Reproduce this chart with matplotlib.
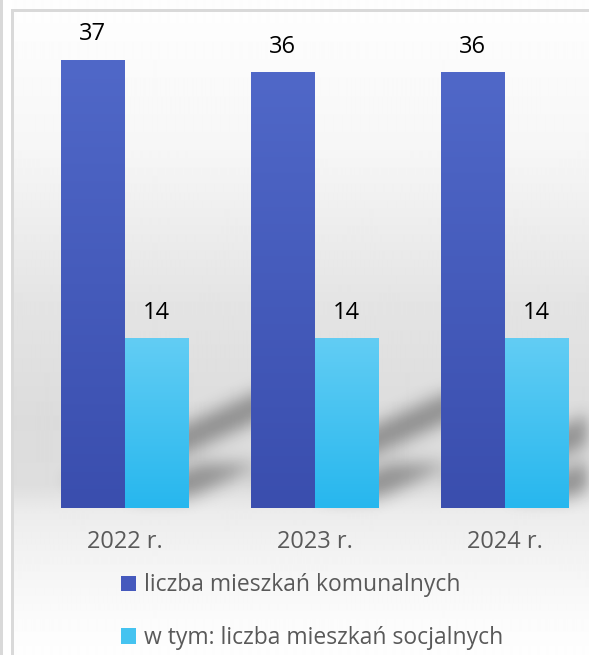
import numpy as np
import matplotlib
matplotlib.use("Agg")
import matplotlib.pyplot as plt
from matplotlib.colors import LinearSegmentedColormap
from matplotlib.collections import PolyCollection
from matplotlib.patches import Rectangle, Patch

plt.rcParams['font.family'] = ['Open Sans', 'DejaVu Sans']

# data
years = ["2022 r.", "2023 r.", "2024 r."]
komunalne = [37, 36, 36]
socjalne = [14, 14, 14]
series_names = ["liczba mieszkań komunalnych", "w tym: liczba mieszkań socjalnych"]

W, H = 589, 655
fig = plt.figure(figsize=(W / 100, H / 100), dpi=100)

# background: grey gradient box with thin border
bg = fig.add_axes([0, 0, 1, 1])
bg.axis('off')
ys = np.arange(H)
stops_y = [10, 150, 300, 420, 485, 512, 560, 620, 655]
stops_v = [0.995, 0.965, 0.895, 0.862, 0.87, 0.925, 0.955, 0.985, 0.995]
grad = np.interp(ys, stops_y, stops_v)[:, None]
bg.imshow(np.repeat(grad, 2, axis=1), cmap='gray', vmin=0, vmax=1,
          extent=[12, W, H, 0], aspect='auto', interpolation='bilinear')
bg.add_patch(Rectangle((0, 0), 2.5, H, color='#d9d9d9', lw=0))
bg.add_patch(Rectangle((11, 9), 2.5, H, color='#d9d9d9', lw=0))
bg.add_patch(Rectangle((11, 9), W, 2.5, color='#d9d9d9', lw=0))
bg.set_xlim(0, W)
bg.set_ylim(H, 0)

# main axes, placed in pixel terms
ax = fig.add_axes([14 / W, 147 / H, 1 - 14 / W, 484 / H])
ax.patch.set_alpha(0)
x = np.arange(len(years))
bw = 0.334
xlim = (-0.5816, -0.5816 + 575 / 190)
ylim = (0, 40)

b1 = ax.bar(x - bw / 2, komunalne, bw, color='#4559bd', zorder=2, label=series_names[0])
b2 = ax.bar(x + bw / 2, socjalne, bw, color='#45c3f0', zorder=2, label=series_names[1])

cm1 = LinearSegmentedColormap.from_list('b', ['#3a4eae', '#5068c8'])
cm2 = LinearSegmentedColormap.from_list('c', ['#27b7ee', '#62cdf4'])
g = np.linspace(1, 0, 200)[:, None]
for bars, cm in ((b1, cm1), (b2, cm2)):
    for p in bars:
        x0, w, h = p.get_x(), p.get_width(), p.get_height()
        ax.imshow(g, cmap=cm, vmin=0, vmax=1, extent=[x0, x0 + w, 0, h],
                  aspect='auto', interpolation='bilinear', zorder=2.1)


# soft perspective shadows behind the bars
def blur(sigma, alpha):
    pad = int(3 * sigma)
    k = np.exp(-0.5 * (np.arange(-pad, pad + 1) / sigma) ** 2)
    k /= k.sum()

    def f(im, dpi):
        a = np.pad(im[..., 3], pad)
        a = np.apply_along_axis(lambda r: np.convolve(r, k, mode='same'), 0, a)
        a = np.apply_along_axis(lambda r: np.convolve(r, k, mode='same'), 1, a)
        out = np.zeros(a.shape + (4,))
        out[..., 3] = np.clip(a * alpha, 0, 1)
        return out, -pad, -pad
    return f


polys = []
for bars in (b1, b2):
    for p in bars:
        x0, w, h = p.get_x(), p.get_width(), p.get_height()
        off = 0.06 * h
        dx = 0.028 * h
        dy = 0.2 * h
        polys.append([(x0, off), (x0 + w, off), (x0 + w + dx, off + dy), (x0 + dx, off + dy)])
sh = PolyCollection(polys, facecolors='k', edgecolors='none', zorder=1)
sh.set_agg_filter(blur(6, 0.6))
ax.add_collection(sh)

ax.bar_label(b1, padding=10, fontsize=17, color='black')
ax.bar_label(b2, padding=10, fontsize=17, color='black')

ax.set_xlim(*xlim)
ax.set_ylim(*ylim)
ax.set_xticks(x, years)
ax.tick_params(axis='x', length=0, pad=16, labelsize=17, labelcolor='#595959')
ax.set_yticks([])
for s in ax.spines.values():
    s.set_visible(False)

h1 = Patch(facecolor='#4559bd')
h2 = Patch(facecolor='#45c3f0')
fig.legend([h1, h2], series_names, loc='upper left', bbox_to_anchor=(110 / W, 1 - 562 / H),
           frameon=False, fontsize=16.5, labelcolor='#595959', handlelength=0.64,
           handleheight=0.64, handletextpad=0.35, labelspacing=1.25, borderpad=0)

fig.savefig('out.png', dpi=100)
